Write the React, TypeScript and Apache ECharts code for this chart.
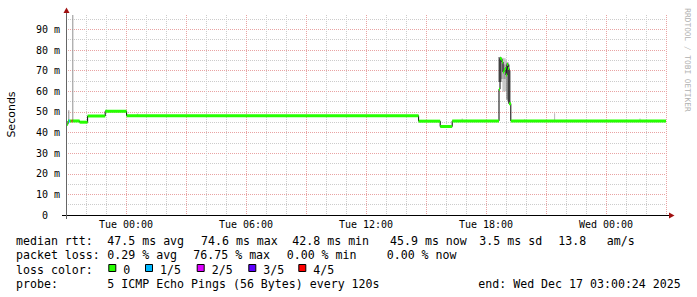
import React, { useEffect, useRef } from 'react';
import * as echarts from 'echarts';

// ---- axes ----
const X_MAX_HOURS = 30; // Mon 21:00 -> Wed 03:00
const Y_MAX_MS = 96.97;
const xTickHours = [3, 9, 15, 21, 27];
const xTickLabels = ['Tue 00:00', 'Tue 06:00', 'Tue 12:00', 'Tue 18:00', 'Wed 00:00'];
const yTickValues = [0, 10, 20, 30, 40, 50, 60, 70, 80, 90];
const yTickLabels = ['0  ', '10 m', '20 m', '30 m', '40 m', '50 m', '60 m', '70 m', '80 m', '90 m'];

// ---- median rtt (hours since Mon 21:00, ms, loss count) ----
const medT = [0, 0.1, 0.15, 0.2, 0.28, 0.33, 0.68, 1.08, 1.96, 3.03, 17.63, 18.71, 19.31,
  21.65, 21.7, 21.75, 21.8, 21.85, 21.9, 21.95, 22.0, 22.05, 22.1, 22.15, 22.2, 22.24];
const medV = [44.0, 45.6, 45.6, 45.6, 45.6, 45.6, 45.0, 48.0, 50.3, 48.1, 45.5, 42.9, 45.6,
  61, 76, 75.5, 74.2, 69.3, 70.2, 71, 67.9, 73, 71, 54, 54, 45.6];
const medLoss = [0, 0, 1, 0, 4, 0, 0, 0, 0, 0, 0, 0, 0,
  0, 0, 0, 0, 0, 0, 0, 0, 0, 0, 0, 0, 0];

// ---- smoke (hours, low ms, high ms, tone 0 light / 1 mid / 2 dark) ----
const smokeT = [0.14, 0.34, 3.58, 19.81,
  21.65, 21.7, 21.75, 21.8, 21.85, 21.9, 21.95, 22.0, 22.05, 22.1, 22.15, 22.2,
  21.9, 21.95, 22.93, 24.43, 28.7];
const smokeLo = [45.6, 45.6, 48.2, 45.6,
  64.5, 64.5, 64.5, 66, 59.7, 60, 60, 60, 56, 55, 54, 54,
  66, 66, 45.6, 45.6, 45.6];
const smokeHi = [50.8, 96.97, 49.2, 46.8,
  76.6, 76.6, 76.6, 76, 76.3, 76, 76, 75, 74, 74, 73, 70,
  73, 73, 46.4, 49.3, 46.8];
const smokeTone = [1, 1, 0, 0,
  2, 2, 2, 2, 0, 0, 0, 0, 2, 2, 2, 2,
  1, 1, 0, 0, 0];
const smokeColors = ['#b8b8b8', '#909090', '#5a5a5a'];

// ---- legend ----
const lossLabels = ['0', '1/5', '2/5', '3/5', '4/5'];
const lossColors = ['#26ff00', '#00b8ff', '#dd00ff', '#5e00ff', '#ff0000'];
const rttStats = ['47.5 ms avg', '74.6 ms max', '42.8 ms min', '45.9 ms now', '3.5 ms sd', '13.8', 'am/s'];
const lossStats = ['0.29 % avg', '76.75 % max', '0.00 % min', '0.00 % now'];
const probeText = '5 ICMP Echo Pings (56 Bytes) every 120s';
const endText = 'end: Wed Dec 17 03:00:24 2025';

const MONO = '"DejaVu Sans Mono", monospace';
const MAJOR = '#e9a3a3';
const MINOR = '#cccccc';
const nb = (s: string) => s.replace(/ /g, '\u00a0');

export default function App() {
  const ref = useRef<HTMLDivElement>(null);
  useEffect(() => {
    if (!ref.current) return;
    const chart = echarts.init(ref.current, undefined, { renderer: 'svg' });

    const segData = medT.map((t, i) => [t, i + 1 < medT.length ? medT[i + 1] : X_MAX_HOURS, medV[i], medLoss[i]]);
    const lineData = medT.map((t, i) => [t, medV[i]]).concat([[X_MAX_HOURS, medV[medV.length - 1]]]);
    const smokeData = smokeT.map((t, i) => [t, smokeLo[i], smokeHi[i], smokeTone[i]]);

    const rowY = [241, 255.3, 269.7, 283.7];
    const txt = (x: number, y: number, s: string, extra: any = {}) => ({
      type: 'text', x, y, z: 100,
      style: { text: nb(s), font: `11.6px ${MONO}`, fill: '#000', align: 'left', verticalAlign: 'middle', ...extra },
    });
    const rttX = [107.3, 201, 292.3, 390, 479.3, 558.3, 606.7];
    const lossX = [107.3, 193.3, 286.7, 386.7];
    const boxX = [108.3, 145, 196.7, 248.3, 298.3];
    const graphics: any[] = [
      txt(16, rowY[0], 'median rtt:'),
      ...rttStats.map((s, i) => txt(rttX[i], rowY[0], s)),
      txt(16, rowY[1], 'packet loss:'),
      ...lossStats.map((s, i) => txt(lossX[i], rowY[1], s)),
      txt(16, rowY[2], 'loss color:'),
      ...lossLabels.map((s, i) => txt(boxX[i] + 15, rowY[2], s)),
      ...lossColors.map((c, i) => ({
        type: 'rect', z: 100,
        shape: { x: boxX[i] + 0.5, y: 264.5, width: 7, height: 7 },
        style: { fill: c, stroke: '#000', lineWidth: 1 },
      })),
      txt(16, rowY[3], 'probe:'),
      txt(107.3, rowY[3], probeText),
      txt(478.3, rowY[3], endText),
      {
        type: 'text', x: 11, y: 114.5, rotation: Math.PI / 2, z: 100,
        style: { text: 'Seconds', font: '11px "DejaVu Sans", sans-serif', fill: '#000', align: 'center', verticalAlign: 'middle' },
      },
      {
        type: 'text', x: 687.5, y: 60, rotation: -Math.PI / 2, z: 100,
        style: { text: nb('RRDTOOL / TOBI OETIKER'), font: `7.8px ${MONO}`, fill: '#b0b0b0', align: 'center', verticalAlign: 'middle' },
      },
      { type: 'line', z: 100, shape: { x1: 62, y1: 215.5, x2: 669, y2: 215.5 }, style: { stroke: '#000', lineWidth: 1 } },
      { type: 'line', z: 100, shape: { x1: 66.5, y1: 219, x2: 66.5, y2: 12 }, style: { stroke: '#666', lineWidth: 1 } },
      { type: 'polygon', z: 101, shape: { points: [[66.5, 7.5], [63.5, 13], [69.5, 13]] }, style: { fill: '#a01010' } },
      { type: 'polygon', z: 101, shape: { points: [[674.5, 215.5], [669, 212.5], [669, 218.5]] }, style: { fill: '#a01010' } },
    ];

    chart.setOption({
      animation: false,
      backgroundColor: '#ffffff',
      grid: { left: 66, top: 15, width: 600, height: 200, containLabel: false },
      xAxis: {
        type: 'value', min: 0, max: X_MAX_HOURS, interval: 1,
        axisLine: { show: false }, axisTick: { show: false },
        axisLabel: {
          margin: 4, color: '#000', fontFamily: MONO, fontSize: 10,
          formatter: (v: number) => {
            const i = xTickHours.indexOf(Math.round(v));
            return i >= 0 ? nb(xTickLabels[i]) : '';
          },
        },
        splitLine: {
          show: true,
          lineStyle: { type: [1, 1], width: 1, color: Array.from({ length: 31 }, (_, i) => (i % 3 === 0 ? MAJOR : MINOR)) },
        },
      },
      yAxis: {
        type: 'value', min: 0, max: Y_MAX_MS, interval: 5,
        axisLine: { show: false }, axisTick: { show: false },
        axisLabel: {
          margin: 6, color: '#000', fontFamily: MONO, fontSize: 10,
          formatter: (v: number) => {
            const i = yTickValues.indexOf(Math.round(v * 100) / 100);
            return i >= 0 ? nb(yTickLabels[i]) : '';
          },
        },
        splitLine: {
          show: true,
          lineStyle: {
            type: [1, 1], width: 1,
            color: Array.from({ length: 21 }, (_, i) => (i === 20 ? 'rgba(0,0,0,0)' : i % 2 === 0 ? MAJOR : MINOR)),
          },
        },
      },
      series: [
        {
          type: 'custom', name: 'smoke', z: 1,
          encode: { x: 0, y: [1, 2] },
          data: smokeData,
          renderItem: (params: any, api: any) => {
            const t = api.value(0);
            const lo = api.value(1);
            const hi = Math.min(api.value(2), Y_MAX_MS);
            const p0 = api.coord([t, hi]);
            const p1 = api.coord([t, lo]);
            const w = api.size([0.05, 0])[0];
            return {
              type: 'rect',
              shape: { x: p0[0] - w / 2, y: p0[1], width: w, height: p1[1] - p0[1] },
              style: { fill: smokeColors[api.value(3)] },
            };
          },
        },
        {
          type: 'line', name: 'median edge', z: 2, step: 'end', showSymbol: false, symbol: 'none',
          data: lineData,
          lineStyle: { color: '#000', width: 1 },
        },
        {
          type: 'custom', name: 'median', z: 3,
          encode: { x: [0, 1], y: 2 },
          data: segData,
          renderItem: (params: any, api: any) => {
            const v = api.value(2);
            const a = api.coord([api.value(0), v]);
            const b = api.coord([api.value(1), v]);
            return {
              type: 'rect',
              shape: { x: a[0], y: a[1] - 1.5, width: Math.max(b[0] - a[0], 1), height: 3 },
              style: { fill: lossColors[api.value(3)] },
            };
          },
        },
      ],
      graphic: { elements: graphics },
    });
    return () => chart.dispose();
  }, []);
  return <div ref={ref} style={{ position: 'absolute', left: 0, top: 0, width: 697, height: 297 }} />;
}
